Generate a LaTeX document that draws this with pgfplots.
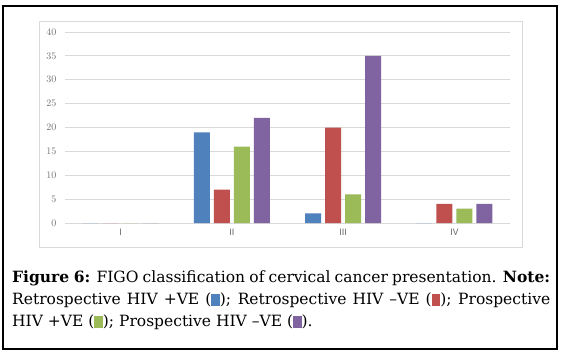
\documentclass[border=0pt]{standalone}
\usepackage{fontspec}
\setmainfont{DejaVu Serif}
\newfontfamily\tickfont{Carlito}
\usepackage{pgfplots}
\pgfplotsset{compat=1.18}
\definecolor{cblue}{HTML}{4F81BD}
\definecolor{cred}{HTML}{C0504D}
\definecolor{cgreen}{HTML}{9BBB59}
\definecolor{cpurple}{HTML}{8064A2}
\definecolor{gridgray}{HTML}{D9D9D9}
\definecolor{ticktext}{HTML}{707070}
\newcommand{\sq}[1]{\textcolor{#1}{\rule[-1.5pt]{8.5pt}{11.5pt}}}
\begin{document}
\begin{tikzpicture}[x=1pt,y=1pt]
\useasboundingbox[fill=white] (0,0) rectangle (562,357);
\draw[black, line width=1.2pt] (3,8) rectangle (557,351);
\draw[gridgray, line width=0.6pt] (39,110) rectangle (522,336);
\begin{axis}[
  at={(65pt,134pt)}, anchor=south west,
  scale only axis, width=445pt, height=191pt,
  ybar=4pt, bar width=16pt,
  xmin=-0.5, xmax=3.5, ymin=0, ymax=40,
  xtick={0,1,2,3}, xticklabels={I,II,III,IV},
  ytick={0,5,...,40},
  axis x line*=bottom, axis y line*=left,
  y axis line style={draw=none},
  x axis line style={draw=gridgray, line width=0.8pt},
  major tick length=0pt,
  ymajorgrids, grid style={gridgray, line width=0.8pt},
  tick label style={font=\tickfont\fontsize{10}{12}\selectfont, text=ticktext},
  yticklabel style={xshift=-5pt},
  xticklabel style={yshift=-3pt},
  every axis plot/.append style={draw=none},
]
\addplot[fill=cblue] coordinates {(0,0) (1,19) (2,2) (3,0)};
\addplot[fill=cred] coordinates {(0,0) (1,7) (2,20) (3,4)};
\addplot[fill=cgreen] coordinates {(0,0) (1,16) (2,6) (3,3)};
\addplot[fill=cpurple] coordinates {(0,0) (1,22) (2,35) (3,4)};
\end{axis}
\node[anchor=base west, inner sep=0pt] at (12,75) {\parbox[t]{538pt}{\fontsize{15.5}{22}\selectfont
\textbf{Figure 6:} FIGO classification of cervical cancer presentation. \textbf{Note:}\linebreak
Retrospective HIV +VE (\sq{cblue}); Retrospective HIV –VE (\sq{cred}); Prospective\linebreak
HIV +VE (\sq{cgreen}); Prospective HIV –VE (\sq{cpurple}).}};
\end{tikzpicture}
\end{document}
